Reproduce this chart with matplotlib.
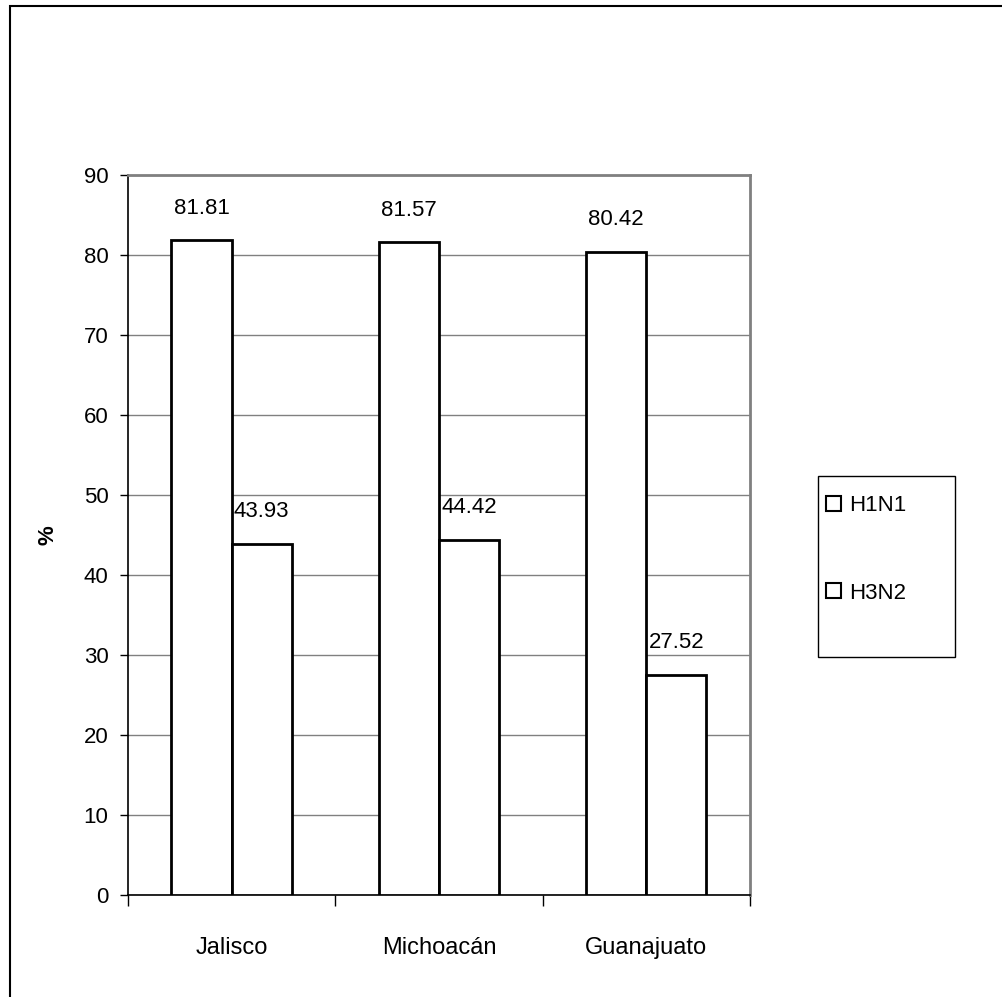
import matplotlib
matplotlib.use("Agg")
import matplotlib.pyplot as plt
from matplotlib.patches import Rectangle
import numpy as np

states = ["Jalisco", "Michoacán", "Guanajuato"]
h1n1 = [81.81, 81.57, 80.42]
h3n2 = [43.93, 44.42, 27.52]
series_names = ["H1N1", "H3N2"]
y_ticks = [0, 10, 20, 30, 40, 50, 60, 70, 80, 90]

plt.rcParams["font.family"] = ["Liberation Sans Narrow", "Liberation Sans", "DejaVu Sans"]
fs = 16

fig = plt.figure(figsize=(10.02, 9.97), dpi=100)

# outer chart frame
fig.patches.append(Rectangle((10 / 1002, -0.05), 1.1, (991 / 997) + 0.05,
                             transform=fig.transFigure, fill=False,
                             edgecolor="black", linewidth=1.5))

ax = fig.add_axes([0.1277, 0.1023, 0.6208, 0.7222])

x = np.arange(len(states))
width = 0.29
b1 = ax.bar(x - width / 2, h1n1, width, color="white", edgecolor="black",
            linewidth=2, zorder=3, label=series_names[0])
b2 = ax.bar(x + width / 2, h3n2, width, color="white", edgecolor="black",
            linewidth=2, zorder=3, label=series_names[1])

for bars, vals in ((b1, h1n1), (b2, h3n2)):
    for rect, v in zip(bars, vals):
        ax.annotate(f"{v:.2f}", (rect.get_x() + rect.get_width() / 2, v),
                    xytext=(0, 23), textcoords="offset points",
                    ha="center", va="center", fontsize=fs)

ax.set_xlim(-0.5, len(states) - 0.5)
ax.set_ylim(0, 90)
ax.set_yticks(y_ticks)
ax.yaxis.grid(True, color="#808080", linewidth=1, zorder=0)
ax.tick_params(axis="y", length=6, width=1, labelsize=fs, pad=8)

# category boundaries as ticks, names at the centres
ax.set_xticks(np.arange(len(states) + 1) - 0.5)
ax.set_xticklabels([])
ax.tick_params(axis="x", which="major", length=8, width=1, direction="out")
ax.set_xticks(x, minor=True)
ax.set_xticklabels(states, minor=True, fontsize=17)
ax.tick_params(axis="x", which="minor", length=0, pad=30)

ax.set_ylabel("%", fontsize=fs, fontweight="bold", labelpad=18)

for side in ("top", "right"):
    ax.spines[side].set_color("#808080")
    ax.spines[side].set_linewidth(2)
ax.spines["left"].set_linewidth(1.2)
ax.spines["bottom"].set_linewidth(1.2)

# legend box
fig.patches.append(Rectangle((818 / 1002, 0.341), 137 / 1002, 0.1816,
                             transform=fig.transFigure, fill=False,
                             edgecolor="black", linewidth=1))
leg = fig.legend(handles=[b1, b2], labels=series_names, loc="upper left",
                 bbox_to_anchor=(822 / 1002, 0.508), frameon=False, fontsize=fs,
                 handlelength=0.65, handleheight=0.65, handletextpad=0.35,
                 labelspacing=3.0, borderaxespad=0, borderpad=0.2)
for h in leg.legend_handles:
    h.set_linewidth(1.5)

fig.savefig("out.png", dpi=100)
